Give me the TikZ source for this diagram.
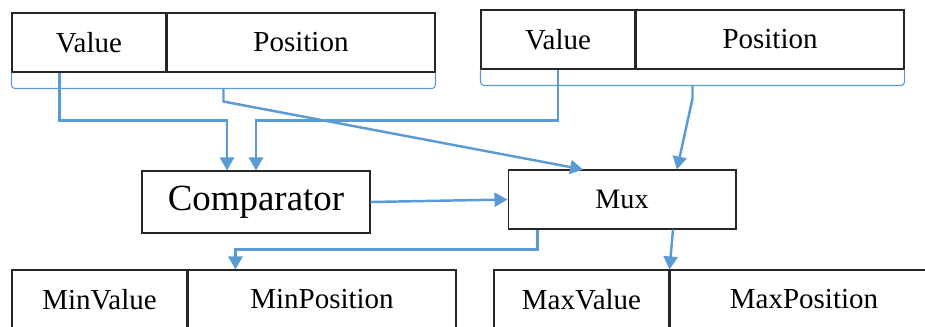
\documentclass[tikz,border=0pt]{standalone}
\usepackage{fontspec}
\setmainfont{Liberation Serif}
\usetikzlibrary{positioning, calc, arrows.meta}
\definecolor{wireblue}{RGB}{91,155,213}

\begin{document}
\begin{tikzpicture}[x=0.02cm, y=-0.02cm, >={Triangle[length=2.6mm, width=2.8mm]}]
\tikzset{
  cell/.style={draw=black!85, line width=0.6pt, minimum height=1.18cm, inner sep=0pt, font=\fontsize{16.5}{18}\selectfont},
  vcell/.style={cell, minimum width=3.08cm},
  pcell/.style={cell, minimum width=5.36cm},
  blk/.style={draw=black!85, line width=0.6pt, minimum width=4.56cm, minimum height=1.18cm, inner sep=0pt},
  wire/.style={draw=wireblue, line width=1.4pt},
  brc/.style={draw=wireblue, line width=0.6pt, rounded corners=2pt}
}
\useasboundingbox (0,0) rectangle (925,327);
\clip (0,0) rectangle (925,327);

% row 1 : inputs
\node[vcell] (vA) at (89,42.5) {Value};
\node[pcell, right=0pt of vA] (pA) {Position};
\node[vcell] (vB) at (558,39.5) {Value};
\node[pcell, right=0pt of vB] (pB) {Position};

% braces under the inputs
\coordinate (bAtop) at ($(vA.south west)!0.5!(pA.south east)+(0,16)$);
\coordinate (bBtop) at ($(vB.south west)!0.5!(pB.south east)+(0,16)$);
\coordinate (bA) at ($(bAtop)+(0,13)$);
\coordinate (bB) at ($(bBtop)+(0,13)$);
\draw[brc] (vA.south west) |- (bAtop) -| (pA.south east);
\draw[brc] (vB.south west) |- (bBtop) -| (pB.south east);

% row 2 : comparator and mux
\node[blk, minimum height=1.24cm, font=\fontsize{21}{24}\selectfont] (cmp) at (256,202) {Comparator};
\node[blk, font=\fontsize{16}{18}\selectfont] (mux) at (622,199.5) {Mux};

% row 3 : outputs
\node[cell, minimum width=3.5cm] (vMin) at (99.5,299.5) {MinValue};
\node[pcell, right=0pt of vMin] (pMin) {MinPosition};
\node[cell, minimum width=3.5cm] (vMax) at (581.5,299.5) {MaxValue};
\node[pcell, right=0pt of vMax] (pMax) {MaxPosition};

% values into the comparator
\coordinate (vAout) at ($(vA.south west)!0.31!(vA.south east)$);
\coordinate (cin1) at ([xshift=-0.58cm]cmp.north);
\draw[wire, ->] (vAout) -- ++(0,48) -| (cin1);
\draw[wire, ->] (vB.south) -- ++(0,51) -| (cmp.north);

% whole inputs into the mux
\coordinate (min1) at ($(mux.north west)!0.33!(mux.north east)$);
\coordinate (min2) at ($(mux.north west)!0.74!(mux.north east)$);
\draw[wire, ->] (bAtop) -- (bA) -- (min1);
\draw[wire, ->] (bBtop) -- (bB) -- (min2);
\draw[wire, ->] (cmp.east) -- (mux.west);

% mux to outputs
\coordinate (mout1) at ([xshift=0.6cm]mux.south west);
\coordinate (minpos) at ([xshift=0.96cm]pMin.north west);
\draw[wire, ->] (mout1) -- ++(0,20) -| (minpos);
\draw[wire, ->] ([xshift=1.02cm]mux.south) -- (vMax.north east);

\end{tikzpicture}
\end{document}
